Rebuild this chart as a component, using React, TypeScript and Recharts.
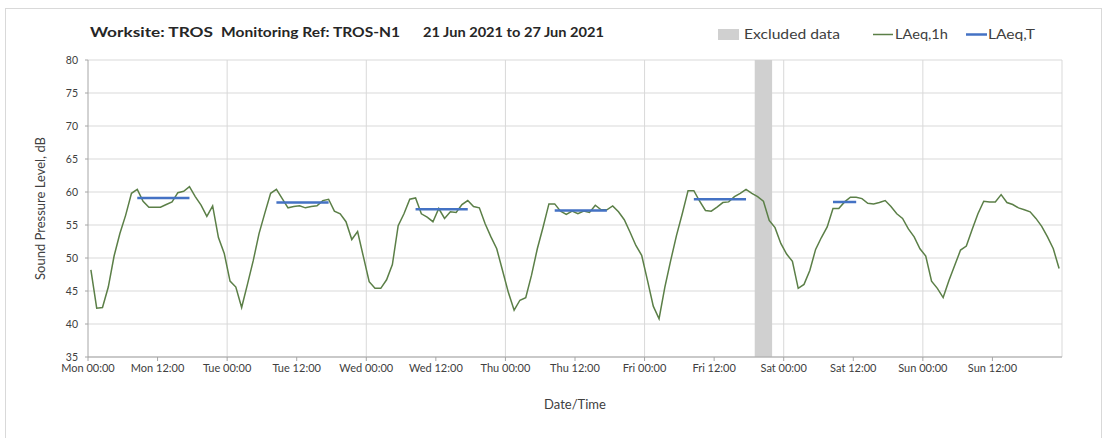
import React from 'react';
import { LineChart, Line, XAxis, YAxis, CartesianGrid, ReferenceArea, ReferenceLine } from 'recharts';

// hourly LAeq,1h readings, one array per day (00:00 .. 23:00)
const days = ['Mon', 'Tue', 'Wed', 'Thu', 'Fri', 'Sat', 'Sun'];
const monLevels = [48.2, 42.4, 42.5, 45.6, 50.3, 53.7, 56.5, 59.8, 60.4, 58.6, 57.7, 57.7, 57.7, 58.1, 58.5, 59.9, 60.1, 60.8, 59.3, 58.0, 56.3, 57.9, 53.1, 50.7];
const tueLevels = [46.5, 45.6, 42.5, 46.0, 49.6, 53.7, 56.8, 59.8, 60.4, 59.0, 57.6, 57.8, 57.9, 57.6, 57.8, 57.9, 58.7, 58.9, 57.1, 56.7, 55.5, 52.8, 54.0, 50.2];
const wedLevels = [46.4, 45.4, 45.4, 46.7, 49.0, 54.9, 56.7, 58.9, 59.1, 56.7, 56.2, 55.5, 57.5, 56.0, 57.0, 56.9, 58.1, 58.7, 57.8, 57.6, 55.2, 53.2, 51.4, 48.1];
const thuLevels = [44.8, 42.1, 43.6, 44.0, 47.4, 51.4, 54.7, 58.2, 58.2, 57.1, 56.6, 57.1, 56.7, 57.1, 56.9, 58.0, 57.3, 57.3, 57.9, 57.0, 55.8, 53.9, 51.9, 50.4];
const friLevels = [46.6, 42.7, 40.8, 45.6, 49.6, 53.4, 56.7, 60.2, 60.2, 58.6, 57.2, 57.1, 57.7, 58.4, 58.5, 59.3, 59.8, 60.4, 59.8, 59.3, 58.6, 55.7, 54.6, 52.2];
const satLevels = [50.6, 49.5, 45.4, 46.0, 48.1, 51.3, 53.1, 54.7, 57.5, 57.5, 58.5, 59.2, 59.2, 59.0, 58.3, 58.2, 58.4, 58.7, 57.8, 56.7, 56.0, 54.4, 53.2, 51.4];
const sunLevels = [50.3, 46.5, 45.4, 44.0, 46.6, 48.9, 51.2, 51.8, 54.3, 56.7, 58.6, 58.5, 58.5, 59.6, 58.4, 58.1, 57.6, 57.3, 57.0, 56.0, 54.8, 53.2, 51.4, 48.4];

// LAeq,T periods (hour index from Mon 00:00)
const periodStart = [8, 32, 56, 80, 104, 128];
const periodEnd = [17, 41, 65, 89, 113, 132];
const periodLevel = [59.1, 58.4, 57.4, 57.2, 58.9, 58.5];

// excluded data window (hours from Mon 00:00)
const excludedFrom = 115;
const excludedTo = 118;

const yTicks = [35, 40, 45, 50, 55, 60, 65, 70, 75, 80];
const xTicks = [0, 12, 24, 36, 48, 60, 72, 84, 96, 108, 120, 132, 144, 156];
const dayBounds = [24, 48, 72, 96, 120, 144, 168];

const hourly = [...monLevels, ...tueLevels, ...wedLevels, ...thuLevels, ...friLevels, ...satLevels, ...sunLevels];

const data = hourly.map((v, h) => {
  const p = periodStart.findIndex((s, i) => h >= s && h <= periodEnd[i]);
  return { t: h + 0.5, laeq1h: v, laeqT: p >= 0 ? periodLevel[p] : null };
});

const GREEN = '#5b7f47';
const BLUE = '#4472c4';
const FONT = 'Lato, "Open Sans", sans-serif';

const fmtTick = (t: number) => `${days[Math.floor(t / 24)]} ${t % 24 === 0 ? '00:00' : '12:00'}`;

export default function App() {
  return (
    <div style={{ position: 'absolute', left: 0, top: 0, width: 1106, height: 438, overflow: 'hidden', background: '#fff', fontFamily: FONT }}>
      <div style={{ position: 'absolute', left: 5, top: 8, width: 1095, height: 450, border: '1px solid #d9d9d9' }} />
      <div style={{ position: 'absolute', left: 0, top: 0 }}>
        <LineChart width={1106} height={438} data={data} margin={{ top: 60, right: 44, bottom: 51, left: 48 }}>
          <CartesianGrid vertical={false} stroke="#d9d9d9" />
          <ReferenceArea x1={excludedFrom} x2={excludedTo} fill="#d0d0d0" fillOpacity={1} stroke="none" zIndex={-50} />
          {dayBounds.map((d) => (
            <ReferenceLine key={d} x={d} stroke="#d9d9d9" zIndex={-40} />
          ))}
          <XAxis
            type="number"
            dataKey="t"
            domain={[0, 168]}
            ticks={xTicks}
            interval={0}
            tickFormatter={fmtTick}
            stroke="#a6a6a6"
            tickSize={4}
            tickMargin={3}
            height={30}
            tick={{ fill: '#404040', fontSize: 11, fontFamily: FONT }}
            label={{ value: 'Date/Time', position: 'bottom', offset: 13, fill: '#404040', fontSize: 13, fontFamily: FONT }}
          />
          <YAxis
            type="number"
            domain={[35, 80]}
            ticks={yTicks}
            interval={0}
            stroke="#a6a6a6"
            tickSize={3}
            tickMargin={7}
            width={40}
            tick={{ fill: '#404040', fontSize: 10.5, fontFamily: FONT }}
            label={{ value: 'Sound Pressure Level, dB', angle: -90, position: 'insideLeft', offset: -8, fill: '#404040', fontSize: 13, fontFamily: FONT, style: { textAnchor: 'middle' } }}
          />
          <Line type="linear" dataKey="laeq1h" stroke={GREEN} strokeWidth={1.5} dot={false} isAnimationActive={false} zIndex={600} />
          <Line type="linear" dataKey="laeqT" stroke={BLUE} strokeWidth={2.5} dot={false} connectNulls={false} isAnimationActive={false} zIndex={700} />
        </LineChart>
      </div>
      <svg width={1106} height={60} style={{ position: 'absolute', left: 0, top: 0, pointerEvents: 'none' }} fontFamily={FONT}>
        <g fill="#262626" fontWeight="bold">
          <text x={90} y={37} fontSize={13.5} textLength={123} lengthAdjust="spacingAndGlyphs">Worksite: TROS</text>
          <text x={221} y={37} fontSize={13.5} textLength={179} lengthAdjust="spacingAndGlyphs">Monitoring Ref: TROS-N1</text>
          <text x={423} y={37} fontSize={12.5} textLength={181} lengthAdjust="spacingAndGlyphs">21 Jun 2021 to 27 Jun 2021</text>
        </g>
        <g fill="#404040" fontSize={13}>
          <rect x={718} y={29} width={21} height={11} fill="#d0d0d0" />
          <text x={744} y={39} textLength={96} lengthAdjust="spacingAndGlyphs">Excluded data</text>
          <line x1={873} x2={893} y1={34.5} y2={34.5} stroke={GREEN} strokeWidth={1.5} />
          <text x={895} y={39} textLength={53} lengthAdjust="spacingAndGlyphs">LAeq,1h</text>
          <line x1={966} x2={987} y1={34.5} y2={34.5} stroke={BLUE} strokeWidth={2.5} />
          <text x={988} y={39} textLength={47} lengthAdjust="spacingAndGlyphs">LAeq,T</text>
        </g>
      </svg>
    </div>
  );
}
